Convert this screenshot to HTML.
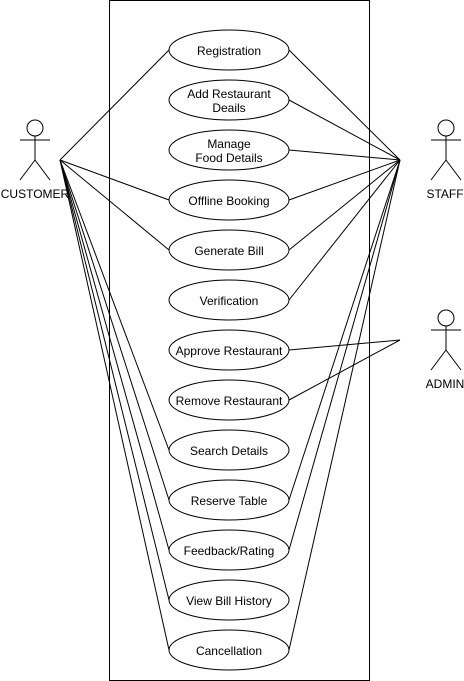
<!DOCTYPE html>
<html><head><style>body{margin:0;background:#fff}svg{display:block}</style></head><body>
<svg width="464" height="681" xmlns="http://www.w3.org/2000/svg" font-family="Liberation Sans, sans-serif" font-size="12">
<rect x="109.5" y="0.5" width="260" height="680" fill="none" stroke="#000"/>
<g stroke="#000" fill="none">
<line x1="60" y1="160" x2="169" y2="50"/>
<line x1="60" y1="160" x2="169" y2="200"/>
<line x1="60" y1="160" x2="169" y2="250"/>
<line x1="60" y1="160" x2="169" y2="450"/>
<line x1="60" y1="160" x2="169" y2="500"/>
<line x1="60" y1="160" x2="169" y2="550"/>
<line x1="60" y1="160" x2="169" y2="600"/>
<line x1="60" y1="160" x2="169" y2="650"/>
<line x1="400" y1="160" x2="289" y2="50"/>
<line x1="400" y1="160" x2="289" y2="100"/>
<line x1="400" y1="160" x2="289" y2="150"/>
<line x1="400" y1="160" x2="289" y2="200"/>
<line x1="400" y1="160" x2="289" y2="250"/>
<line x1="400" y1="160" x2="289" y2="300"/>
<line x1="400" y1="160" x2="289" y2="500"/>
<line x1="400" y1="160" x2="289" y2="550"/>
<line x1="400" y1="160" x2="289" y2="650"/>
<line x1="400" y1="340" x2="289" y2="350"/>
<line x1="400" y1="340" x2="289" y2="400"/>
</g>
<g stroke="#000" fill="#fff">
<ellipse cx="229" cy="50" rx="60" ry="20"/>
<ellipse cx="229" cy="100" rx="60" ry="20"/>
<ellipse cx="229" cy="150" rx="60" ry="20"/>
<ellipse cx="229" cy="200" rx="60" ry="20"/>
<ellipse cx="229" cy="250" rx="60" ry="20"/>
<ellipse cx="229" cy="300" rx="60" ry="20"/>
<ellipse cx="229" cy="350" rx="60" ry="20"/>
<ellipse cx="229" cy="400" rx="60" ry="20"/>
<ellipse cx="229" cy="450" rx="60" ry="20"/>
<ellipse cx="229" cy="500" rx="60" ry="20"/>
<ellipse cx="229" cy="550" rx="60" ry="20"/>
<ellipse cx="229" cy="600" rx="60" ry="20"/>
<ellipse cx="229" cy="650" rx="60" ry="20"/>
</g>
<g text-anchor="middle" fill="#000">
<text x="229" y="55">Registration</text>
<text x="229" y="98">Add Restaurant</text>
<text x="229" y="112">Deails</text>
<text x="229" y="148">Manage</text>
<text x="229" y="162">Food Details</text>
<text x="229" y="205">Offline Booking</text>
<text x="229" y="255">Generate Bill</text>
<text x="229" y="305">Verification</text>
<text x="229" y="355">Approve Restaurant</text>
<text x="229" y="405">Remove Restaurant</text>
<text x="229" y="455">Search Details</text>
<text x="229" y="505">Reserve Table</text>
<text x="229" y="555">Feedback/Rating</text>
<text x="229" y="605">View Bill History</text>
<text x="229" y="655">Cancellation</text>
<text x="35" y="198">CUSTOMER</text>
<text x="445" y="198">STAFF</text>
<text x="445" y="388">ADMIN</text>
</g>
<g stroke="#000" fill="#fff">
<circle cx="35" cy="128" r="8"/>
<path d="M35 136V160M20 140H50M35 160L20 180M35 160L50 180" fill="none"/>
<circle cx="446" cy="128" r="8"/>
<path d="M446 136V160M431 140H461M446 160L431 180M446 160L461 180" fill="none"/>
<circle cx="446" cy="318" r="8"/>
<path d="M446 326V350M431 330H461M446 350L431 370M446 350L461 370" fill="none"/>
</g>
</svg>
</body></html>
